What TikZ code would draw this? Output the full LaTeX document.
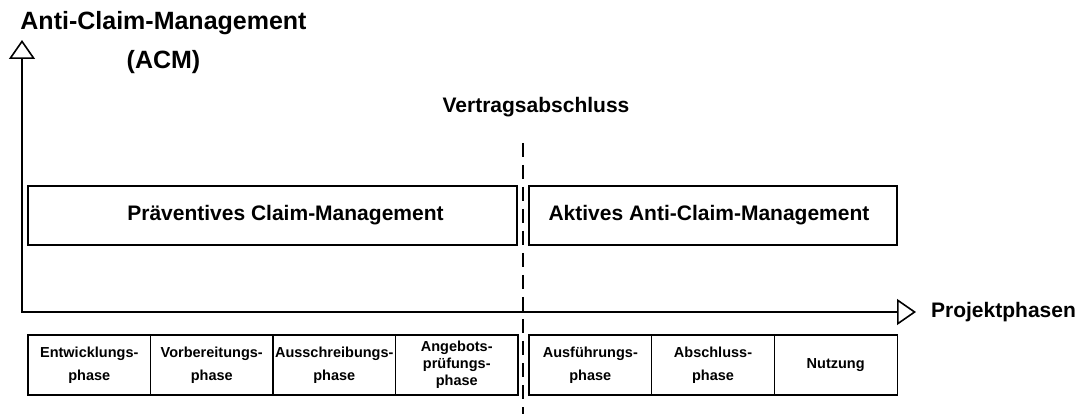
\documentclass[tikz,border=0pt]{standalone}
\usepackage{fontspec}
\setmainfont{Liberation Sans}
\usetikzlibrary{arrows.meta}
\begin{document}
\begin{tikzpicture}[x=1pt,y=-1pt,
  tri/.tip={Triangle[open,length=19pt,width=26pt,line width=1.6pt]},
  axis/.style={line width=2.2pt, line join=miter, tri-tri},
  bigbox/.style={draw, line width=1.2pt, minimum height=59pt, inner sep=0pt},
  cell/.style={draw, line width=1.1pt, minimum width=122.5pt, minimum height=60pt, inner sep=0pt, align=center, font=\fontsize{14.5}{23}\bfseries\selectfont},
  lbl/.style={inner sep=0pt, font=\fontsize{21}{25}\bfseries\selectfont},
  ttl/.style={inner sep=0pt, font=\fontsize{25}{29}\bfseries\selectfont},
  sep/.style={line width=1.2pt, dash pattern=on 14pt off 8pt}]
\path[fill=white] (0,0) rectangle (1080,414);
\useasboundingbox (0,0) rectangle (1080,414);

% axes
\coordinate (O) at (22,312);
\coordinate (ytip) at (22,40);
\coordinate (xtip) at (916,312);
\draw[axis] (ytip) -- (O) -- (xtip);

% titles
\node[ttl] (title) at (163.5,23) {Anti-Claim-Management};
\node[ttl] (acm) at (163.5,62) {(ACM)};
\node[lbl] (xlabel) at (1003.5,312) {Projektphasen};
\node[lbl] (vertrag) at (536,107) {Vertragsabschluss};

% contract line
\coordinate (dtop) at (523,143);
\coordinate (dbot) at (523,414);
\draw[sep] (dtop) -- (dbot);

% management boxes
\node[bigbox, minimum width=489pt, label={[lbl,xshift=13pt]center:Präventives Claim-Management}] (pcm) at (272.5,215.5) {};
\node[bigbox, minimum width=368pt, label={[lbl,xshift=-4pt]center:Aktives Anti-Claim-Management}] (aacm) at (713,215.5) {};

% phases
\node[cell] (p1) at (89.25,365) {Entwicklungs-\\phase};
\node[cell] (p2) at (211.75,365) {Vorbereitungs-\\phase};
\node[cell] (p3) at (334.25,365) {Ausschreibungs-\\phase};
\node[cell, font=\fontsize{14.5}{17}\bfseries\selectfont] (p4) at (456.75,365) {Angebots-\\prüfungs-\\phase};
\node[cell, minimum width=122.7pt] (p5) at (590.3,365) {Ausführungs-\\phase};
\node[cell, minimum width=122.7pt] (p6) at (713,365) {Abschluss-\\phase};
\node[cell, minimum width=122.7pt] (p7) at (835.7,365) {Nutzung};
\end{tikzpicture}
\end{document}
